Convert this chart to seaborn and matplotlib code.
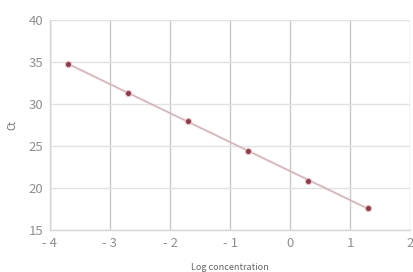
import numpy as np
import pandas as pd
import matplotlib
matplotlib.use('Agg')
import matplotlib.pyplot as plt
import seaborn as sns

# standard curve data
log_conc = [-3.7, -2.7, -1.7, -0.7, 0.3, 1.3]
ct_values = [34.8, 31.3, 28.0, 24.4, 20.9, 17.6]
x_ticks = [-4, -3, -2, -1, 0, 1, 2]
x_tick_labels = ['- 4', '- 3', '- 2', '- 1', '0', '1', '2']
y_ticks = [15, 20, 25, 30, 35, 40]

df = pd.DataFrame({'log_conc': log_conc, 'ct': ct_values})

sns.set_style('white')
plt.rcParams['font.family'] = ['Noto Sans CJK JP', 'DejaVu Sans']

fig = plt.figure(figsize=(4.13, 2.72), dpi=100)
ax = fig.add_axes([0.121, 0.154, 0.872, 0.772])

# linear fit (trendline)
slope, intercept = np.polyfit(df['log_conc'], df['ct'], 1)
fit_x = np.array([df['log_conc'].min(), df['log_conc'].max()])
fit = pd.DataFrame({'x': fit_x, 'y': slope * fit_x + intercept})
sns.lineplot(data=fit, x='x', y='y', ax=ax, color='#f6c4cb', lw=2.0, alpha=0.5, zorder=2)
sns.lineplot(data=fit, x='x', y='y', ax=ax, color='#bfb0b3', lw=0.8, zorder=3)

sns.scatterplot(data=df, x='log_conc', y='ct', ax=ax, color='#84404e',
                s=20, edgecolor='#f4c0c8', linewidth=0.8, zorder=4)

ax.set_xlim(-4, 2)
ax.set_ylim(15, 40)
ax.set_xticks(x_ticks)
ax.set_xticklabels(x_tick_labels)
ax.set_yticks(y_ticks)
ax.tick_params(axis='both', labelsize=9.5, colors='#8f8f8f', length=0, pad=5)

ax.grid(True, axis='x', color='#c8c8c8', lw=1.0)
ax.grid(True, axis='y', color='#e2e2e2', lw=1.0)
ax.set_axisbelow(True)
for side in ['top', 'right']:
    ax.spines[side].set_visible(False)
for side in ['left', 'bottom']:
    ax.spines[side].set_color('#d5d5d5')
    ax.spines[side].set_linewidth(1.0)

ax.set_xlabel('Log concentration', fontsize=6.5, color='#666666', labelpad=9)
ax.set_ylabel('Ct', fontsize=7, color='#666666', labelpad=8)

plt.savefig('out.png', dpi=100)
plt.close()
